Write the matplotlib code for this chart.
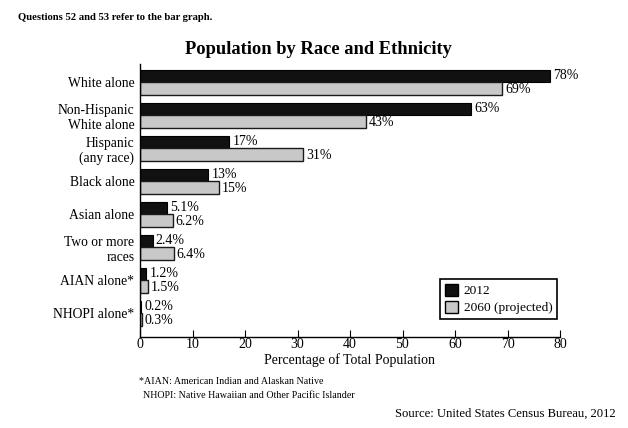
import matplotlib
matplotlib.use("Agg")
import matplotlib.pyplot as plt
import numpy as np
from matplotlib.patches import Patch

plt.rcParams['font.family'] = ['Liberation Serif', 'DejaVu Serif']

categories = ["White alone", "Non-Hispanic\nWhite alone", "Hispanic\n(any race)",
              "Black alone", "Asian alone", "Two or more\nraces", "AIAN alone*", "NHOPI alone*"]
values_2012 = [78, 63, 17, 13, 5.1, 2.4, 1.2, 0.2]
values_2060 = [69, 43, 31, 15, 6.2, 6.4, 1.5, 0.3]
labels_2012 = ["78%", "63%", "17%", "13%", "5.1%", "2.4%", "1.2%", "0.2%"]
labels_2060 = ["69%", "43%", "31%", "15%", "6.2%", "6.4%", "1.5%", "0.3%"]
xticks = [0, 10, 20, 30, 40, 50, 60, 70, 80]

fig = plt.figure(figsize=(6.28, 4.28), dpi=100)
ax = fig.add_axes([140/628, 1-337/428, 420/628, 273/428])

y = np.arange(len(categories))
h = 0.38
ax.barh(y - h/2, values_2012, height=h, color="#111111", edgecolor="#000000", linewidth=0.8)
ax.barh(y + h/2, values_2060, height=h, color="#c8c8c8", edgecolor="#1a1a1a", linewidth=1.0)

for yi, v, t in zip(y, values_2012, labels_2012):
    ax.text(v + 0.6, yi - h/2, t, va="center", ha="left", fontsize=10)
for yi, v, t in zip(y, values_2060, labels_2060):
    ax.text(v + 0.6, yi + h/2 + 0.03, t, va="center", ha="left", fontsize=10)

ax.set_xlim(0, 80)
ax.set_ylim(7.72, -0.55)
ax.set_yticks(y)
ax.set_yticklabels(categories, fontsize=9.8, linespacing=1.2)
ax.set_xticks(xticks)
ax.set_xticklabels([str(t) for t in xticks], fontsize=10)
ax.tick_params(axis="y", length=0, pad=4)
ax.tick_params(axis="x", direction="in", length=5, width=0.8, pad=0.5)
for s in ["top", "right"]:
    ax.spines[s].set_visible(False)
ax.spines["left"].set_linewidth(1.0)
ax.spines["bottom"].set_linewidth(1.0)
ax.set_xlabel("Percentage of Total Population", fontsize=10, labelpad=2)

leg = ax.legend([Patch(facecolor="#111111", edgecolor="black"),
                 Patch(facecolor="#c8c8c8", edgecolor="black")],
                ["2012", "2060 (projected)"],
                loc="lower right", bbox_to_anchor=(0.993, 0.066), borderaxespad=0,
                fontsize=9.6, frameon=True, fancybox=False, framealpha=1, edgecolor="black",
                handlelength=1.0, handleheight=1.0, handletextpad=0.4,
                borderpad=0.35, labelspacing=0.25)
leg.get_frame().set_linewidth(1.2)

fig.text(18/628, 1-18/428, "Questions 52 and 53 refer to the bar graph.", fontsize=7.7,
         fontweight="bold", ha="left", va="center")
fig.text(318/628, 1-50/428, "Population by Race and Ethnicity", fontsize=13.3,
         fontweight="bold", ha="center", va="center")
fig.text(139/628, 1-381/428, "*AIAN: American Indian and Alaskan Native", fontsize=7.2,
         ha="left", va="center")
fig.text(143/628, 1-395/428, "NHOPI: Native Hawaiian and Other Pacific Islander", fontsize=7.2,
         ha="left", va="center")
fig.text(616/628, 1-414/428, "Source: United States Census Bureau, 2012", fontsize=9.05,
         ha="right", va="center")

fig.savefig("out.png", dpi=100)
